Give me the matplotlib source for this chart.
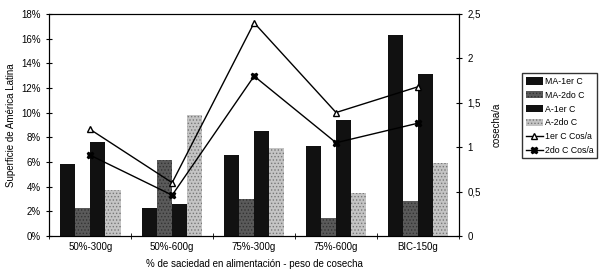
import matplotlib
matplotlib.use('Agg')
import matplotlib.pyplot as plt
from matplotlib.ticker import FuncFormatter
import numpy as np

plt.rcParams['font.family'] = ['Liberation Sans', 'DejaVu Sans']
plt.rcParams['hatch.linewidth'] = 0.6

categories = ['50%-300g', '50%-600g', '75%-300g', '75%-600g', 'BIC-150g']

# superficie (%)
ma_1er = [5.8, 2.3, 6.6, 7.3, 16.3]
ma_2do = [2.3, 6.2, 3.0, 1.5, 2.8]
a_1er = [7.6, 2.6, 8.5, 9.4, 13.1]
a_2do = [3.7, 9.8, 7.1, 3.5, 5.9]

# cosecha/a
cos_1er = [1.2, 0.6, 2.4, 1.39, 1.68]
cos_2do = [0.91, 0.46, 1.8, 1.05, 1.27]

x = np.arange(len(categories))
w = 0.185

fig = plt.figure(figsize=(6, 2.78), dpi=100)
ax = fig.add_axes([0.082, 0.151, 0.683, 0.799])

b1 = ax.bar(x - 1.5 * w, ma_1er, w, color='#111111', label='MA-1er C')
b2 = ax.bar(x - 0.5 * w, ma_2do, w, color='#5a5a5a', hatch='.....',
            edgecolor='#333333', linewidth=0, label='MA-2do C')
b3 = ax.bar(x + 0.5 * w, a_1er, w, color='#111111', label='A-1er C')
b4 = ax.bar(x + 1.5 * w, a_2do, w, color='#c4c4c4', hatch='.....',
            edgecolor='#777777', linewidth=0, label='A-2do C')

ax.set_xlim(-0.5, len(categories) - 0.5)
ax.set_ylim(0, 18)
ax.set_yticks(range(0, 19, 2))
ax.yaxis.set_major_formatter(FuncFormatter(lambda v, p: f'{v:.0f}%'))
ax.set_xticks(x)
ax.set_xticklabels(categories)
ax.set_xticks(np.arange(-0.5, len(categories), 1), minor=True)
ax.tick_params(axis='x', which='major', length=0, labelsize=7, pad=4)
ax.tick_params(axis='x', which='minor', direction='inout', length=5)
ax.tick_params(axis='y', direction='inout', length=5, labelsize=7)
ax.set_ylabel('Superficie de América Latina', fontsize=7)
ax.set_xlabel('% de saciedad en alimentación - peso de cosecha', fontsize=7,
              labelpad=5)

ax2 = ax.twinx()
l1, = ax2.plot(x, cos_1er, color='black', lw=1, marker='^', ms=5,
               mfc='white', mec='black', label='1er C Cos/a')
l2, = ax2.plot(x, cos_2do, color='black', lw=1, marker='X', ms=5,
               mfc='black', mec='black', label='2do C Cos/a')
ax2.set_ylim(0, 2.5)
ax2.set_yticks([0, 0.5, 1, 1.5, 2, 2.5])
ax2.set_yticklabels(['0', '0,5', '1', '1,5', '2', '2,5'])
ax2.tick_params(axis='y', direction='inout', length=5, labelsize=7)
ax2.set_ylabel('cosecha/a', fontsize=7, labelpad=8)

for a in (ax, ax2):
    for s in a.spines.values():
        s.set_linewidth(0.8)

fig.legend([b1, b2, b3, b4, l1, l2],
           ['MA-1er C', 'MA-2do C', 'A-1er C', 'A-2do C', '1er C Cos/a', '2do C Cos/a'],
           loc='upper right', bbox_to_anchor=(0.995, 0.736), fontsize=6.3,
           frameon=True, fancybox=False, edgecolor='black',
           handlelength=2.0, handleheight=0.9, labelspacing=0.55,
           borderpad=0.4, handletextpad=0.2, borderaxespad=0)

fig.savefig('out.png', dpi=100)
